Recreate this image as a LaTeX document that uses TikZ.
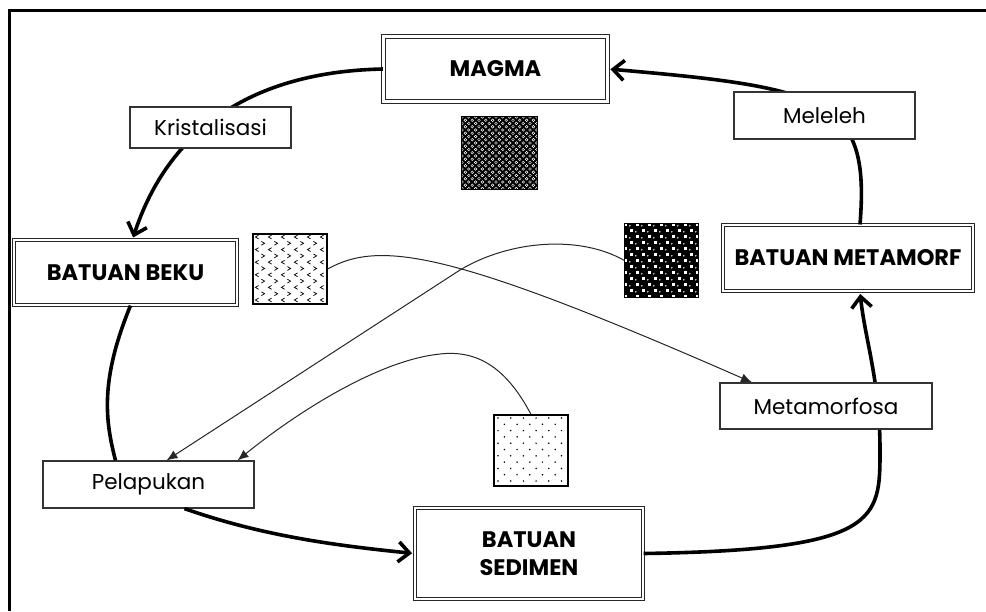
\documentclass[tikz,border=0pt]{standalone}
\usepackage{fontspec}
\setmainfont{Poppins}
\usetikzlibrary{arrows.meta}
\begin{document}
\begin{tikzpicture}[x=1pt,y=-1pt,
  dbox/.style={draw=black!85, double=white, double distance=2.6pt, line width=1.1pt, fill=white, align=center, inner sep=0pt, font=\bfseries\fontsize{22.5}{28}\selectfont},
  lbox/.style={draw=black!80, line width=1.2pt, fill=white, inner sep=0pt, font=\fontsize{21.5}{26}\selectfont},
  tex/.style={draw=black, line width=1.2pt, fill=white, inner sep=0pt},
  bigarrow/.style={line width=3.6pt, -{Straight Barb[length=11pt,width=20pt]}},
  bigline/.style={line width=3.6pt},
  thinarrow/.style={line width=1pt, draw=black!85, -{Latex[length=11pt,width=9pt]}}
]
\useasboundingbox (0,0) rectangle (986,611);
\fill[white] (-8,-8) rectangle (996,620);

% main boxes
\node[dbox, minimum width=224pt, minimum height=65pt] (magma) at (495.5,69) {MAGMA};
\node[dbox, minimum width=223pt, minimum height=65pt] (beku) at (125.5,272.5) {BATUAN BEKU};
\node[dbox, minimum width=250pt, minimum height=66pt] (metamorf) at (848,258) {BATUAN METAMORF};
\node[dbox, minimum width=228pt, minimum height=91pt] (sedimen) at (529,553.5) {BATUAN\\SEDIMEN};
\node[lbox, minimum width=211pt, minimum height=47pt] (pelap) at (148.5,484.5) {Pelapukan};

% texture squares
\node[tex, minimum width=75pt, minimum height=72pt] (tmagma) at (499.5,153) {};
\node[tex, minimum width=74pt, minimum height=70pt] (tbeku) at (290,269) {};
\node[tex, minimum width=73pt, minimum height=73pt] (tmet) at (661.5,260.5) {};
\node[tex, minimum width=74pt, minimum height=71pt] (tsed) at (531,450.5) {};

% magma texture
\begin{scope}
\clip (tmagma.south west) rectangle (tmagma.north east);
\fill[black] (tmagma.south west) rectangle (tmagma.north east);
\foreach \i in {0,...,23}{
  \foreach \j in {0,...,11}{
    \pgfmathsetmacro\yy{117+3.25*\i}
    \ifodd\i
      \pgfmathsetmacro\xx{465.4+6.8*\j}
    \else
      \pgfmathsetmacro\xx{462+6.8*\j}
    \fi
    \draw[white, line width=0.45pt] (\xx,\yy) circle[radius=1.35pt];
  }
}
\end{scope}
\draw[line width=1.2pt] (tmagma.south west) rectangle (tmagma.north east);

% beku texture
\begin{scope}
\clip (tbeku.south west) rectangle (tbeku.north east);
\foreach \i in {0,...,11}{
  \foreach \j in {0,...,6}{
    \pgfmathsetmacro\yy{237+6.3*\i}
    \ifodd\i
      \pgfmathsetmacro\xx{263+13*\j}
      \draw[line width=0.7pt] (\xx-1.6,\yy-1.9) -- (\xx+1.6,\yy) -- (\xx-1.6,\yy+1.9);
    \else
      \pgfmathsetmacro\xx{257+13*\j}
      \draw[line width=0.7pt] (\xx+1.6,\yy-1.9) -- (\xx-1.6,\yy) -- (\xx+1.6,\yy+1.9);
    \fi
  }
}
\end{scope}

% metamorf texture
\begin{scope}
\clip (tmet.south west) rectangle (tmet.north east);
\fill[black] (tmet.south west) rectangle (tmet.north east);
\foreach \i in {0,...,13}{
  \foreach \j in {0,...,6}{
    \pgfmathsetmacro\yy{224+6*\i}
    \ifodd\i
      \pgfmathsetmacro\xx{631+12*\j}
    \else
      \pgfmathsetmacro\xx{625+12*\j}
    \fi
    \fill[white] (\xx-1.5,\yy-1.5) rectangle (\xx+1.5,\yy+1.5);
    \fill[white] (\xx+4.8,\yy+1.8) circle[radius=0.8pt];
  }
}
\end{scope}
\draw[line width=1.2pt] (tmet.south west) rectangle (tmet.north east);

% sedimen texture
\begin{scope}
\clip (tsed.south west) rectangle (tsed.north east);
\foreach \i in {0,...,11}{
  \foreach \j in {0,...,6}{
    \pgfmathsetmacro\yy{418+6.3*\i}
    \ifodd\i
      \pgfmathsetmacro\xx{504.4+12.7*\j}
    \else
      \pgfmathsetmacro\xx{498+12.7*\j}
    \fi
    \fill (\xx,\yy) circle[radius=0.85pt];
  }
}
\end{scope}

\coordinate (bendR) at (880,450);
\coordinate (bendB) at (460,270);
\coordinate (peakC) at (440,354);

% thick cycle
\draw[bigarrow, shorten >=2pt] (magma.west) .. controls (240,72) and (165,140) .. ([xshift=7pt]beku.north);
\draw[bigarrow, shorten >=2.4pt] ([xshift=12pt]metamorf.north) .. controls (870,100) and (830,88) .. (magma.east);
\draw[bigline] ([xshift=5pt]beku.south) .. controls (100,380) and (105,420) .. ([xshift=-33pt]pelap.north);
\draw[bigarrow, shorten >=2.4pt] ([xshift=36pt]pelap.south) .. controls (260,535) and (330,545) .. (sedimen.west);
\draw[bigarrow, shorten >=2.4pt] (sedimen.east) .. controls (880,550) and (880,520) .. (bendR) .. controls (880,380) and (865,340) .. ([xshift=12pt]metamorf.south);

% label boxes lying over the cycle
\node[lbox, minimum width=161pt, minimum height=41pt] (kris) at (210.5,127.5) {Kristalisasi};
\node[lbox, minimum width=181pt, minimum height=47pt] (meleleh) at (824.5,115.5) {Meleleh};
\node[lbox, minimum width=212pt, minimum height=46pt] (metfosa) at (826,406) {Metamorfosa};

% thin arrows
\draw[thinarrow] (tbeku.east) .. controls (380,240) and (450,250) .. ([xshift=-74pt]metfosa.north);
\draw[thinarrow] (tmet.west) .. controls (580,235) and (510,240) .. (bendB) -- ([xshift=18pt]pelap.north);
\draw[thinarrow] (tsed.north) .. controls (505,365) and (475,350) .. (peakC) .. controls (380,360) and (300,410) .. ([xshift=89pt]pelap.north);

% frame (top and left only)
\draw[line width=2.6pt] (9.5,611) -- (9.5,10.5) -- (986,10.5);
\end{tikzpicture}
\end{document}
